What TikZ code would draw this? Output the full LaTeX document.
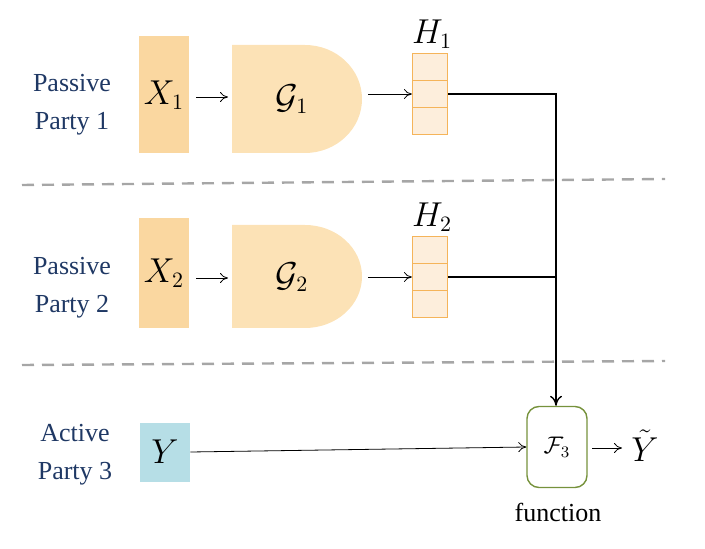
\documentclass[tikz,border=0pt]{standalone}
\usepackage{fontspec}
\setmainfont{Liberation Serif}
\usepackage{amsmath}
\usetikzlibrary{arrows.meta}
\definecolor{navy}{RGB}{31,56,100}
\definecolor{xfill}{RGB}{250,215,160}
\definecolor{gfill}{RGB}{252,226,182}
\definecolor{hbord}{RGB}{245,180,90}
\definecolor{hfill}{RGB}{253,238,220}
\definecolor{yfill}{RGB}{182,222,230}
\definecolor{fbord}{RGB}{118,146,60}
\tikzset{
 lab/.style={text=navy,font=\fontsize{13}{19}\selectfont,align=center},
 xbox/.style={fill=xfill,draw=none,minimum width=25pt,inner sep=0pt,font=\fontsize{16}{18}\selectfont},
 cell/.style={draw=hbord,fill=hfill,minimum width=17.5pt,minimum height=13.5pt,inner sep=0pt,line width=0.6pt},
 arr/.style={-{To[length=4pt,width=5pt]},line width=0.4pt},
 conn/.style={line width=0.7pt},
 sep/.style={gray!70,line width=1.2pt,dash pattern=on 6pt off 4pt},
 mt/.style={font=\fontsize{16}{18}\selectfont,inner sep=1pt}
}
\begin{document}
\begin{tikzpicture}[x=0.5pt,y=-0.5pt]
\useasboundingbox (0,0) rectangle (705,549);
% labels
\node[lab] (l1) at (72,105) {Passive\\Party 1};
\node[lab] (l2) at (72,288) {Passive\\Party 2};
\node[lab] (l3) at (75,455) {Active\\Party 3};
% dashed separators
\draw[sep] (22,185) -- (665,179);
\draw[sep] (22,365) -- (665,361);
% party 1
\node[xbox,minimum height=58.5pt] (x1) at (164,95) {$X_1$};
\fill[gfill] (232,45) -- (305,45) arc[start angle=90,end angle=-90,x radius=28.5pt,y radius=27pt] -- (232,153) -- cycle;
\node[mt] (g1) at (292,99) {$\mathcal{G}_1$};
\coordinate (x1o) at (196,97); \coordinate (g1l) at (228,97); \coordinate (g1r) at (368,94);
\node[cell] (h1b) at (430,67) {};
\node[cell] (h1m) at (430,94) {};
\node[cell] (h1c) at (430,121) {};
\node[mt] (h1) at (432,34) {$H_1$};
\draw[arr] (x1o) -- (g1l);
\draw[arr] (g1r) -- (h1m.west);
% party 2
\node[xbox,minimum height=55pt] (x2) at (164,273) {$X_2$};
\fill[gfill] (232,225) -- (305,225) arc[start angle=90,end angle=-90,x radius=28.5pt,y radius=25.75pt] -- (232,328) -- cycle;
\node[mt] (g2) at (292,277) {$\mathcal{G}_2$};
\coordinate (x2o) at (196,278); \coordinate (g2l) at (228,278); \coordinate (g2r) at (368,277);
\node[cell] (h2b) at (430,250) {};
\node[cell] (h2m) at (430,277) {};
\node[cell] (h2c) at (430,304) {};
\node[mt] (h2) at (432,217) {$H_2$};
\draw[arr] (x2o) -- (g2l);
\draw[arr] (g2r) -- (h2m.west);
% party 3
\node[fill=yfill,minimum width=25pt,minimum height=29.5pt,inner sep=0pt,font=\fontsize{16}{18}\selectfont] (y) at (165,452) {$Y$};
\node[draw=fbord,line width=0.7pt,rounded corners=6pt,minimum width=30pt,minimum height=40.5pt,inner sep=0pt,font=\fontsize{12}{14}\selectfont] (f) at (557,447) {$\mathcal{F}_3$};
\node[font=\fontsize{13}{15}\selectfont] (fn) at (558,512) {function};
\node[mt] (yt) at (645,446) {$\tilde{Y}$};
\coordinate (fo) at (592,448); \coordinate (yti) at (622,448);
\coordinate (j) at (556,277);
\draw[conn] (h1m.east) -| (j);
\draw[conn] (h2m.east) -- (j);
\draw[conn,-{To[length=5pt,width=6pt]}] (j) -- (f.north -| j);
\draw[arr] (y.east) -- (f.west);
\draw[arr] (fo) -- (yti);
\end{tikzpicture}
\end{document}
